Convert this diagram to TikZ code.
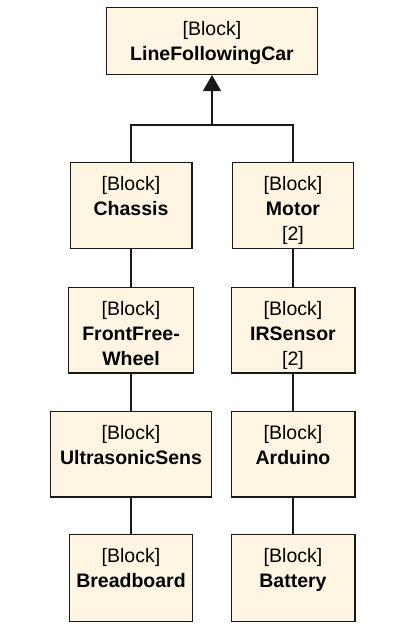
\documentclass[tikz,border=0pt]{standalone}
\usepackage{fontspec}
\setmainfont{Liberation Sans}
\usetikzlibrary{arrows.meta,positioning}
\definecolor{blockfill}{RGB}{255,245,226}
\definecolor{blockline}{RGB}{25,25,25}

\begin{document}
\begin{tikzpicture}[x=1pt,y=-1pt,
    blk/.style={draw=blockline, line width=1.4pt, fill=blockfill, minimum height=85.6pt, inner sep=0pt},
    txt/.style={align=center, anchor=north, inner sep=0pt, font=\fontsize{19.5}{25}\selectfont},
    link/.style={draw=blockline, line width=1.4pt}]
    \useasboundingbox (0,0) rectangle (417,637);

    % top block
    \node[blk, minimum width=210.6pt, minimum height=66.6pt] (car) at (212,41) {};
    \node[txt] (car-t) at ([yshift=-13.8pt]car.north) {[Block]\\\textbf{LineFollowingCar}};

    % left column
    \node[blk, minimum width=121.6pt] (chassis) at (131,205.5) {};
    \node[txt] (chassis-t) at ([yshift=-14.3pt]chassis.north) {[Block]\\\textbf{Chassis}};
    \node[blk, minimum width=124.6pt] (wheel) at (131,330) {};
    \node[txt] (wheel-t) at ([yshift=-14.3pt]wheel.north) {[Block]\\\textbf{FrontFree-}\\\textbf{Wheel}};
    \node[blk, minimum width=160.6pt] (sonic) at (131,454) {};
    \node[txt] (sonic-t) at ([yshift=-14.3pt]sonic.north) {[Block]\\\textbf{UltrasonicSens}};
    \node[blk, minimum width=122.6pt, minimum height=86.6pt] (bread) at (131,578) {};
    \node[txt] (bread-t) at ([yshift=-14.3pt]bread.north) {[Block]\\\textbf{Breadboard}};

    % right column
    \node[blk, minimum width=120.6pt] (motor) at (293,205.5) {};
    \node[txt] (motor-t) at ([yshift=-14.3pt]motor.north) {[Block]\\\textbf{Motor}\\{[2]}};
    \node[blk, minimum width=123.6pt] (irsensor) at (293,330) {};
    \node[txt] (irsensor-t) at ([yshift=-14.3pt]irsensor.north) {[Block]\\\textbf{IRSensor}\\{[2]}};
    \node[blk, minimum width=123.6pt] (arduino) at (293,454) {};
    \node[txt] (arduino-t) at ([yshift=-14.3pt]arduino.north) {[Block]\\\textbf{Arduino}};
    \node[blk, minimum width=123.6pt, minimum height=86.6pt] (battery) at (293,578) {};
    \node[txt] (battery-t) at ([yshift=-14.3pt]battery.north) {[Block]\\\textbf{Battery}};

    % generalization
    \coordinate (fork) at (212,125);
    \draw[link, -{Triangle[width=18pt,length=16pt]}] (fork) -- (car.south);
    \draw[link] (chassis.north) |- (fork) -| (motor.north);

    % chains
    \draw[link] (chassis) -- (wheel);
    \draw[link] (wheel) -- (sonic);
    \draw[link] (sonic) -- (bread);
    \draw[link] (motor) -- (irsensor);
    \draw[link] (irsensor) -- (arduino);
    \draw[link] (arduino) -- (battery);
  \end{tikzpicture}
\end{document}
